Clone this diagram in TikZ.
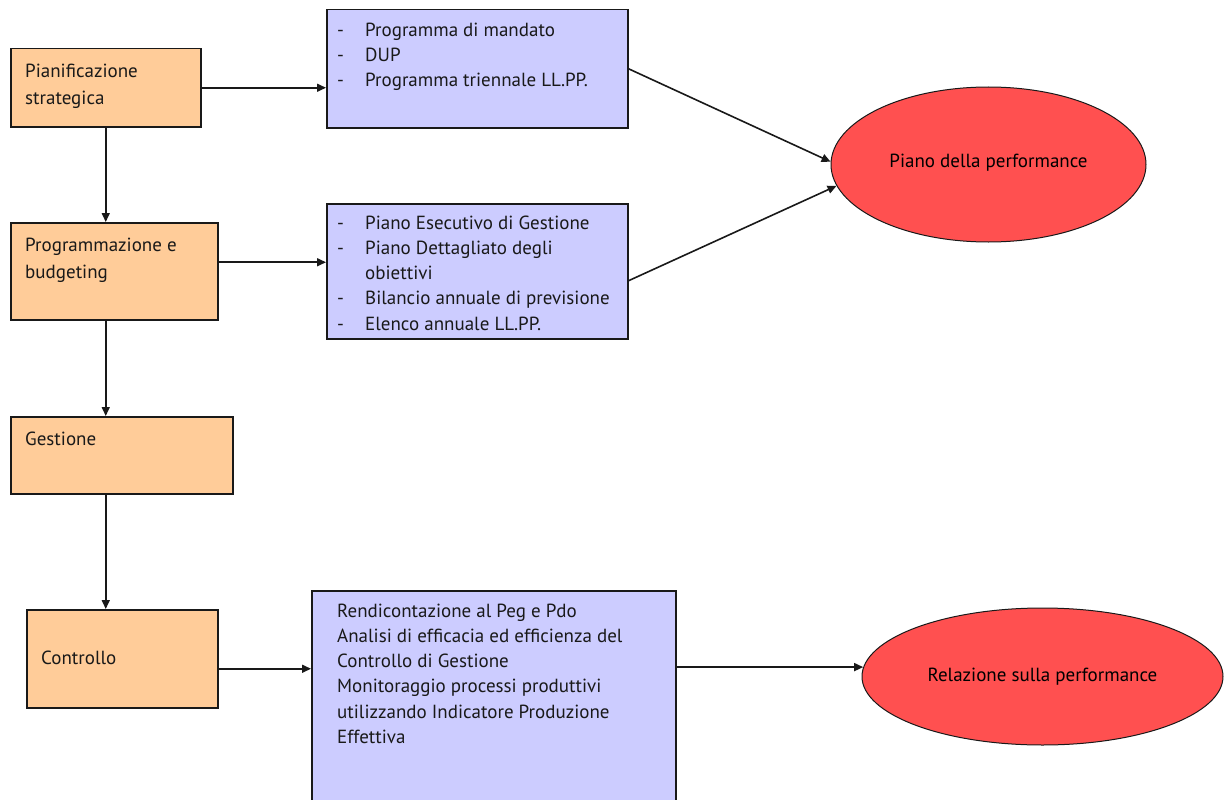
\documentclass[tikz,border=0pt]{standalone}
\usepackage{fontspec}
\setmainfont{PT Sans}
\usetikzlibrary{shapes.geometric,arrows.meta}
\definecolor{orfill}{RGB}{255,204,153}
\definecolor{pufill}{RGB}{204,204,255}
\definecolor{redfill}{RGB}{255,80,80}
\begin{document}
\begin{tikzpicture}[x=1pt,y=-1pt,
  box/.style={draw=black!90, line width=1.5pt, anchor=north west, inner sep=0pt},
  orangebox/.style={box, fill=orfill},
  purplebox/.style={box, fill=pufill},
  redell/.style={ellipse, draw=black!90, line width=1pt, fill=redfill, inner sep=0pt, font=\fontsize{19}{23}\selectfont},
  txt/.style={anchor=base west, inner sep=0pt, align=left, text=black!90, font=\fontsize{19}{25.3}\selectfont},
  otxt/.style={txt, font=\fontsize{19}{27}\selectfont},
  conn/.style={draw=black!90, line width=1.6pt, -{Triangle[length=9pt,width=8pt]}}
]
\useasboundingbox (0,0) rectangle (1224,800);
% left boxes
\node[orangebox, minimum width=190, minimum height=78] (A) at (10,48) {};
\node[orangebox, minimum width=207, minimum height=97] (B) at (10,222) {};
\node[orangebox, minimum width=222, minimum height=77] (C) at (10,416) {};
\node[orangebox, minimum width=191, minimum height=98] (D) at (26,609) {};
% multi-line nodes: base anchor is the baseline of the last line
\node[otxt] (At) at (25,104) {Pianificazione\\strategica};
\node[otxt] (Bt) at (25,278) {Programmazione e\\budgeting};
\node[otxt] (Ct) at (25,445) {Gestione};
\node[otxt] (Dt) at (41,664) {Controllo};
% purple boxes
\node[purplebox, minimum width=301, minimum height=118] (P1) at (326,9) {};
\node[purplebox, minimum width=301, minimum height=135] (P2) at (326,203) {};
\node[purplebox, minimum width=364, minimum height=220] (P3) at (311,590) {};
\node[txt] (P1t) at (337,86.6) {\makebox[28pt][l]{-}Programma di mandato\\
\makebox[28pt][l]{-}DUP\\
\makebox[28pt][l]{-}Programma triennale LL.PP.};
\node[txt] (P2t) at (337,330.2) {\makebox[28pt][l]{-}Piano Esecutivo di Gestione\\
\makebox[28pt][l]{-}Piano Dettagliato degli\\
\hspace*{28pt}obiettivi\\
\makebox[28pt][l]{-}Bilancio annuale di previsione\\
\makebox[28pt][l]{-}Elenco annuale LL.PP.};
\node[txt] (P3t) at (337,743.5) {Rendicontazione al Peg e Pdo\\
Analisi di efficacia ed efficienza del\\
Controllo di Gestione\\
Monitoraggio processi produttivi\\
utilizzando Indicatore Produzione\\
Effettiva};
% ellipses
\node[redell, minimum width=315, minimum height=155] (E1) at (988.5,164.5) {\raisebox{8pt}{Piano della performance}};
\node[redell, minimum width=361, minimum height=137] (E2) at (1042.5,676.5) {Relazione sulla performance};
% connectors
\draw[conn] (A.east) -- (A.east -| P1.west);
\draw[conn] ([yshift=9pt]B.east) -- ([yshift=9pt]B.east -| P2.west);
\draw[conn] (A.south) -- (A.south |- B.north);
\draw[conn] (B.south -| A.south) -- (A.south |- C.north);
\draw[conn] (C.south -| A.south) -- (A.south |- D.north);
\draw[conn] ([yshift=-10pt]D.east) -- ([yshift=-10pt]D.east -| P3.west);
\draw[conn] (P3.east |- E2.177) -- (E2.177);
\draw[conn] (P1.east) -- (E1.179);
\draw[conn] ([yshift=-9.5pt]P2.east) -- (E1.188);
\end{tikzpicture}
\end{document}
